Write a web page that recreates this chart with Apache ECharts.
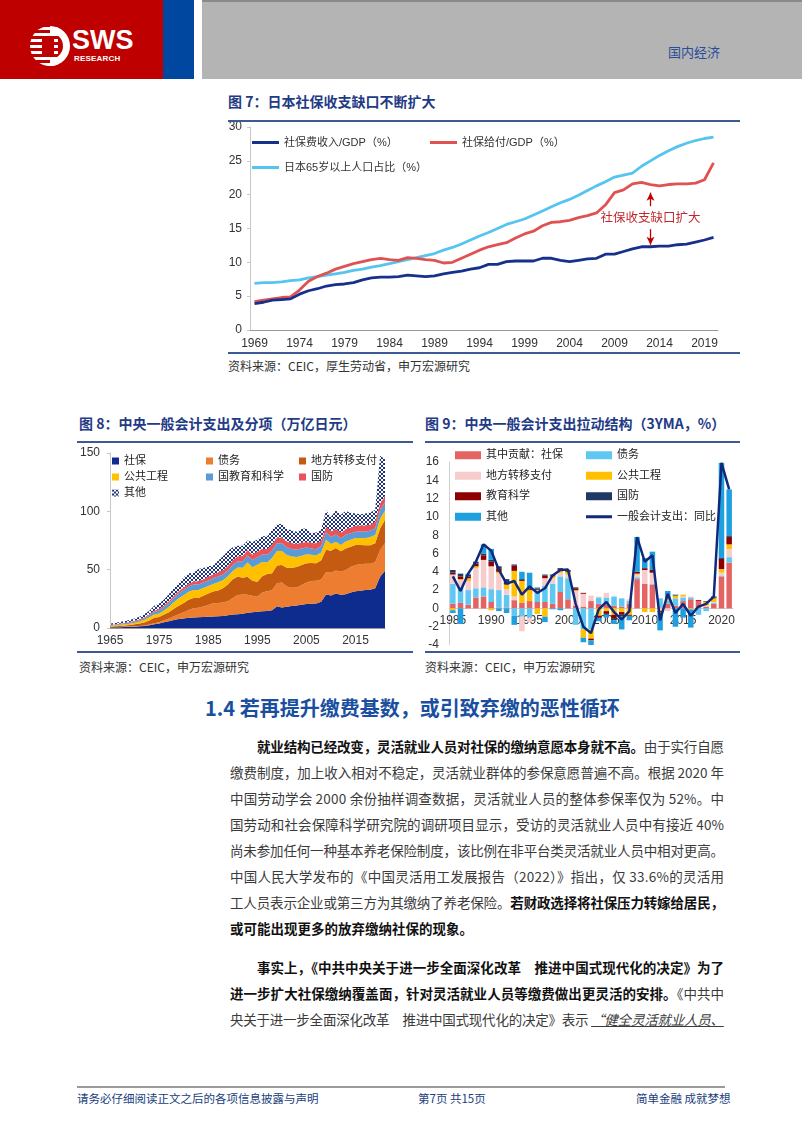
<!DOCTYPE html>
<html><head><meta charset="utf-8">
<script src="https://cdn.jsdelivr.net/npm/echarts@6/dist/echarts.min.js"></script>
<style>
body{margin:0;width:802px;height:1133px;background:#fff;position:relative;overflow:hidden;font-family:"Noto Sans CJK SC","Noto Sans",sans-serif;}
.a{position:absolute;}
.ttl{position:absolute;font-size:14px;font-weight:bold;color:#1f3b86;white-space:nowrap;line-height:18px;}
.src{position:absolute;font-size:12px;color:#333;white-space:nowrap;line-height:16px;}
.rule{position:absolute;height:2px;background:#3e5a96;}
.ln{position:absolute;left:230px;width:494px;height:20px;line-height:20px;font-size:13.5px;text-align:left;white-space:nowrap;color:#3b3b3b;}
.ln.ind{left:257px;width:467px;}
.ln b{color:#111;}
.ft{position:absolute;top:1090px;font-size:11.5px;color:#203d7c;line-height:16px;white-space:nowrap;}
</style></head><body>
<!-- header -->
<div class="a" style="left:0;top:0;width:163px;height:79px;background:#bf0000;"></div>
<div class="a" style="left:163px;top:0;width:31px;height:79px;background:#0047a0;"></div>
<div class="a" style="left:202px;top:0;width:600px;height:79px;background:#b4b4b4;border-top:2px solid #8a8a8a;box-sizing:border-box;"></div>
<svg class="a" style="left:28px;top:24px" width="44" height="44" viewBox="0 0 44 44">
 <defs><clipPath id="cc"><circle cx="22" cy="22" r="20"/></clipPath></defs>
 <g clip-path="url(#cc)" fill="#fff">
  <rect x="0" y="3" width="30" height="3"/><rect x="0" y="9" width="30" height="3"/><rect x="0" y="15" width="30" height="3"/>
  <rect x="0" y="21" width="30" height="3"/><rect x="0" y="27" width="30" height="3"/><rect x="0" y="33" width="30" height="3"/><rect x="0" y="39" width="30" height="3"/>
 </g>
 <path d="M22 2 A20 20 0 0 1 22 42 L22 35 A13 13 0 0 0 22 9 Z" fill="#fff"/>
 <rect x="14" y="12" width="12" height="20" fill="#bf0000"/>
</svg>
<div class="a" style="left:72px;top:26px;font-family:'Liberation Sans',Arial,sans-serif;font-weight:bold;font-size:27px;color:#fff;line-height:28px;">SWS</div>
<div class="a" style="left:74px;top:54px;font-family:'Liberation Sans',Arial,sans-serif;font-weight:bold;font-size:8px;color:#fff;line-height:9px;letter-spacing:0.2px;">RESEARCH</div>
<div class="a" style="left:668px;top:44px;font-size:13px;color:#2b4c9b;line-height:16px;">国内经济</div>

<!-- figure 7 -->
<div class="ttl" style="left:228px;top:92px;">图 7：日本社保收支缺口不断扩大</div>
<div class="rule" style="left:228px;top:120px;width:512px;"></div>
<div id="c7" class="a" style="left:220px;top:122px;width:525px;height:230px;"></div>
<div class="rule" style="left:228px;top:352px;width:512px;"></div>
<div class="src" style="left:228px;top:358px;">资料来源：CEIC，厚生劳动省，申万宏源研究</div>

<!-- figure 8 -->
<div class="ttl" style="left:79px;top:414px;">图 8：中央一般会计支出及分项（万亿日元）</div>
<div class="rule" style="left:77px;top:441px;width:336px;"></div>
<div id="c8" class="a" style="left:75px;top:443px;width:330px;height:207px;"></div>
<div class="rule" style="left:77px;top:651px;width:336px;"></div>
<div class="src" style="left:79px;top:659px;">资料来源：CEIC，申万宏源研究</div>

<!-- figure 9 -->
<div class="ttl" style="left:425px;top:414px;">图 9：中央一般会计支出拉动结构（3YMA，%）</div>
<div class="rule" style="left:425px;top:441px;width:315px;"></div>
<div id="c9" class="a" style="left:415px;top:443px;width:330px;height:207px;"></div>
<div class="rule" style="left:425px;top:651px;width:315px;"></div>
<div class="src" style="left:425px;top:659px;">资料来源：CEIC，申万宏源研究</div>

<!-- text -->
<div class="a" style="left:205px;top:695px;font-size:20px;font-weight:bold;color:#1a4fa0;line-height:26px;white-space:nowrap;">1.4 若再提升缴费基数，或引致弃缴的恶性循环</div>
<div class="ln ind jf" style="top:736px;"><b>就业结构已经改变，灵活就业人员对社保的缴纳意愿本身就不高。</b>由于实行自愿</div>
<div class="ln jf" style="top:762px;">缴费制度，加上收入相对不稳定，灵活就业群体的参保意愿普遍不高。根据 2020 年</div>
<div class="ln jf" style="top:788px;">中国劳动学会 2000 余份抽样调查数据，灵活就业人员的整体参保率仅为 52%。中</div>
<div class="ln jf" style="top:814px;">国劳动和社会保障科学研究院的调研项目显示，受访的灵活就业人员中有接近 40%</div>
<div class="ln jf" style="top:840px;">尚未参加任何一种基本养老保险制度，该比例在非平台类灵活就业人员中相对更高。</div>
<div class="ln jf" style="top:866px;">中国人民大学发布的《中国灵活用工发展报告（2022）》指出，仅 33.6%的灵活用</div>
<div class="ln jf" style="top:892px;">工人员表示企业或第三方为其缴纳了养老保险。<b>若财政选择将社保压力转嫁给居民，</b></div>
<div class="ln" style="top:918px;"><b>或可能出现更多的放弃缴纳社保的现象。</b></div>
<div class="ln ind jf" style="top:957px;"><b>事实上，《中共中央关于进一步全面深化改革　推进中国式现代化的决定》为了</b></div>
<div class="ln jf" style="top:983px;"><b>进一步扩大社保缴纳覆盖面，针对灵活就业人员等缴费做出更灵活的安排。</b>《中共中</div>
<div class="ln jf" style="top:1009px;">央关于进一步全面深化改革　推进中国式现代化的决定》表示 <i><u>“健全灵活就业人员、</u></i></div>

<!-- footer -->
<div class="a" style="left:77px;top:1086px;width:648px;height:2px;background:#9a9a9a;"></div>
<div class="ft" style="left:77px;">请务必仔细阅读正文之后的各项信息披露与声明</div>
<div class="ft" style="left:418px;">第7页 共15页</div>
<div class="ft" style="left:636px;">简单金融 成就梦想</div>

<script>
// justify each text line by spreading its letters over the line width
document.querySelectorAll('.ln.jf').forEach(el => {
  const target = el.clientWidth;
  const span = document.createElement('span');
  while (el.firstChild) span.appendChild(el.firstChild);
  el.appendChild(span);
  const w = span.getBoundingClientRect().width;
  const n = el.textContent.length;
  if (n > 1) el.style.letterSpacing = ((target - w) / (n - 1)) + 'px';
});

// ---------- Figure 7 data (1969-2020) ----------
const years7 = [];
for (let y = 1969; y <= 2020; y++) years7.push(String(y));
const ssIncome = [3.9,4.1,4.4,4.5,4.6,5.3,5.8,6.1,6.5,6.7,
  6.8,7.0,7.4,7.7,7.8,7.8,7.9,8.1,8.0,7.9,
  8.0,8.3,8.5,8.7,9.0,9.2,9.7,9.7,10.1,10.2,
  10.2,10.2,10.6,10.6,10.3,10.1,10.3,10.5,10.6,11.2,
  11.2,11.6,12.0,12.3,12.3,12.4,12.4,12.6,12.7,13.0,
  13.3,13.7];
const ssBenefit = [4.2,4.4,4.6,4.8,4.9,5.9,7.2,7.9,8.4,9.0,
  9.4,9.8,10.1,10.4,10.6,10.4,10.3,10.7,10.6,10.4,
  10.3,9.9,10.0,10.6,11.2,11.8,12.3,12.6,12.9,13.6,
  14.2,14.6,15.4,15.9,16.0,16.2,16.6,16.9,17.3,18.5,
  20.3,20.7,21.6,21.8,21.5,21.3,21.5,21.6,21.6,21.7,
  22.2,24.7];
const aged65 = [6.9,7.0,7.0,7.1,7.3,7.4,7.7,7.9,8.1,8.3,
  8.5,8.8,9.0,9.3,9.5,9.8,10.1,10.4,10.7,11.0,
  11.3,11.8,12.2,12.7,13.3,13.9,14.4,15.0,15.6,16.0,
  16.4,17.0,17.6,18.2,18.8,19.3,19.9,20.6,21.3,21.9,
  22.6,22.9,23.2,24.2,25.0,25.8,26.5,27.1,27.6,28.0,
  28.3,28.5];
const names7 = ['社保费收入/GDP（%）','社保给付/GDP（%）','日本65岁以上人口占比（%）'];
const gapNote = '社保收支缺口扩大';

// ---------- Figure 8 data (1965-2021, trillion yen) ----------
const years8 = [];
for (let y = 1965; y <= 2021; y++) years8.push(String(y));
const names8 = ['社保','债务','地方转移支付','公共工程','国教育和科学','国防','其他'];
const exSocial = [0.5,0.6,0.7,0.8,0.9,1.1,1.4,1.7,2.3,3.2,
  3.9,4.9,5.7,6.8,7.7,8.2,8.8,9.1,9.2,9.4,
  9.6,9.9,10.0,10.3,11.0,11.5,11.8,12.3,13.0,13.4,
  14.0,14.3,14.6,15.2,18.6,17.6,18.3,18.9,19.3,19.9,
  20.6,20.7,21.1,22.5,28.7,27.8,29.5,28.6,29.0,30.5,
  31.5,32.0,32.5,32.8,34.0,44.0,49.0];
const exDebt = [0.0,0.1,0.1,0.2,0.3,0.3,0.3,0.5,0.7,0.9,
  1.1,1.7,2.4,3.2,4.1,5.4,6.6,7.8,8.2,9.1,
  10.2,11.3,11.5,11.6,12.0,14.3,16.4,16.4,15.4,14.3,
  12.8,16.2,16.8,17.2,19.8,21.4,17.2,15.6,15.5,16.9,
  18.4,19.6,19.5,19.0,19.1,19.5,19.8,19.7,20.7,21.8,
  22.4,22.6,22.5,22.2,22.3,22.7,23.8];
const exLocal = [0.7,0.8,1.0,1.2,1.4,1.8,2.1,2.5,3.4,4.6,
  4.4,4.9,5.5,6.4,7.3,7.8,8.9,8.9,8.4,9.2,
  9.7,10.1,10.6,12.1,14.3,15.9,16.0,14.3,15.6,12.8,
  12.9,13.8,14.8,14.5,15.2,15.0,16.2,17.1,17.4,17.1,
  16.6,15.5,14.9,16.6,19.3,18.9,19.2,17.5,18.5,17.3,
  17.2,16.6,16.0,16.0,16.4,18.5,20.0];
const exPublic = [0.7,0.8,0.9,1.0,1.1,1.4,1.8,2.3,2.8,2.9,
  3.1,3.6,4.6,5.6,6.4,6.7,6.7,6.8,6.7,6.5,
  6.5,6.5,7.2,7.0,7.0,7.1,7.6,8.6,12.2,11.5,
  14.5,12.3,10.0,13.0,12.4,11.9,10.8,9.6,8.6,8.0,
  7.6,7.0,6.8,6.6,8.5,5.8,5.5,5.4,6.0,6.1,
  6.0,6.0,6.0,6.9,7.0,8.5,8.0];
const exEdu = [0.5,0.6,0.7,0.8,0.9,1.0,1.1,1.4,1.7,2.1,
  2.5,2.9,3.3,3.8,4.2,4.5,4.6,4.6,4.7,4.7,
  4.8,4.8,4.9,4.9,5.0,5.1,5.3,5.6,6.0,6.3,
  6.5,6.5,6.5,6.6,6.6,6.8,6.7,6.6,6.5,6.2,
  5.8,5.4,5.3,5.5,6.4,6.0,6.2,5.8,5.7,5.6,
  5.5,5.6,5.6,5.6,5.8,7.5,7.0];
const exDefense = [0.3,0.3,0.4,0.4,0.5,0.6,0.7,0.8,0.9,1.1,
  1.3,1.5,1.7,1.9,2.1,2.2,2.4,2.6,2.8,2.9,
  3.1,3.3,3.5,3.7,3.9,4.2,4.4,4.5,4.6,4.6,
  4.7,4.8,4.9,4.9,4.9,4.9,4.9,4.9,4.9,4.9,
  4.8,4.8,4.8,4.7,4.8,4.7,4.7,4.7,4.8,4.9,
  5.0,5.1,5.2,5.3,5.4,5.6,5.6];
const exOther = [1.0,1.3,1.3,1.5,1.8,2.0,2.2,2.7,3.0,4.3,
  4.6,5.0,5.9,6.4,7.0,8.6,8.9,7.4,10.6,9.7,
  9.1,7.7,10.0,11.9,12.7,11.2,9.0,8.8,8.3,10.7,
  10.5,10.9,10.9,13.0,11.5,11.7,10.7,11.0,10.2,11.9,
  11.7,8.4,9.4,9.8,14.2,12.6,15.8,15.4,15.5,12.6,
  10.6,9.6,10.3,10.1,10.5,40.8,31.2];

// ---------- Figure 9 data (1985-2021, 3YMA contribution %) ----------
const years9 = [];
for (let y = 1985; y <= 2021; y++) years9.push(String(y));
const names9 = ['其中贡献：社保','债务','地方转移支付','公共工程','教育科学','国防','其他','一般会计支出：同比'];
const cSocial = [0.5,0.6,0.4,1.2,1.3,0.7,0.1,0.1,0.9,0.6,
  0.8,0.7,0.7,0.5,1.8,1.0,0.3,0.2,0.8,0.5,
  0.4,0.3,0.2,0.5,3.2,2.7,2.6,0.1,0.5,0.3,
  0.8,1.0,0.8,0.2,0.5,3.5,5.0];
const cDebt = [2.2,1.7,1.6,1.0,1.0,1.4,1.9,1.4,-0.8,-0.9,
  -1.0,1.0,1.8,2.2,1.7,2.3,-1.8,-2.3,-2.3,0.7,
  0.8,1.0,0.9,0.3,0.2,0.0,0.1,1.0,0.3,0.8,
  0.4,0.2,-0.7,-0.3,0.1,0.1,0.6];
const cLocal = [1.0,0.8,1.0,2.2,3.0,2.5,1.8,0.6,0.4,-1.6,
  -0.5,0.3,0.8,0.6,0.4,0.4,1.6,1.4,0.6,0.1,
  0.5,0.0,0.0,0.2,0.3,1.5,1.2,-0.2,-0.3,0.0,
  0.1,0.1,0.0,0.1,0.1,0.3,0.9];
const cPublic = [-0.2,0.1,0.3,0.2,0.0,-0.2,0.2,0.5,2.8,2.4,
  1.2,-0.6,-0.9,0.2,0.3,0.3,0.1,-0.9,-1.0,-0.8,
  -0.3,-0.7,-0.4,-0.7,0.1,-0.4,-0.4,-0.1,0.3,0.3,
  0.2,-0.1,0.0,0.4,0.4,0.4,0.5];
const cEdu = [0.2,0.3,0.2,0.3,0.5,0.5,0.4,0.3,0.6,0.1,
  0.1,0.1,0.3,0.1,0.1,0.1,0.2,0.1,-0.2,-0.2,
  -0.3,-0.4,-0.3,-0.1,0.2,0.2,0.3,-0.1,0.0,0.0,
  0.0,0.0,0.1,0.05,0.1,1.1,0.8];
const cDefense = [0.3,0.3,0.2,0.2,0.2,0.2,0.2,0.3,0.1,0.1,
  0.1,0.1,0.1,0.1,0.1,0.1,0.1,0.0,0.0,-0.1,
  -0.1,-0.2,-0.2,-0.1,0.0,0.0,0.0,0.0,0.1,0.1,
  0.0,0.0,0.0,0.05,0.1,0.1,0.1];
const cOther = [-0.3,-1.7,0.1,0.0,1.0,1.2,-0.3,-0.5,-1.0,0.8,
  1.7,0.1,-0.6,-0.1,-0.2,0.0,0.0,-0.5,-0.6,-0.3,
  -0.3,-0.4,-1.4,-0.4,3.8,1.1,2.0,-2.0,0.7,-2.0,
  -1.0,-2.0,0.0,0.0,0.0,10.4,5.1];
const totalYoY = [3.5,1.9,3.8,5.1,7.0,6.3,4.2,2.7,3.0,1.5,
  2.4,1.7,2.2,3.6,4.2,4.25,0.5,-2.0,-2.7,-0.1,
  0.7,-0.4,-1.2,-0.3,7.8,5.1,5.8,-1.3,1.6,-0.5,
  0.5,-0.8,0.2,0.5,1.3,15.9,13.0];

const FONT = '"Liberation Sans", Arial, "Noto Sans CJK SC", sans-serif';
const lbl = {color:'#333', fontSize:12, fontFamily:FONT};

// ---------- Chart 7 ----------
const c7 = echarts.init(document.getElementById('c7'));
const col7 = ['#16308c', '#e05252', '#55c5f0'];
const leg7 = (name, left, top) => ({data:[{name:name, icon:'rect'}], left:left, top:top, itemWidth:27, itemHeight:3, padding:0,
  textStyle:{color:'#333', fontSize:11, fontFamily:FONT}});
c7.setOption({
  animation:false,
  textStyle:{fontFamily:FONT},
  grid:{left:30, top:5, width:468, height:203, outerBoundsMode:'none', containLabel:false},
  legend:[leg7(names7[0], 32, 15), leg7(names7[1], 210, 15), leg7(names7[2], 32, 40)],
  xAxis:{type:'category', data:years7, boundaryGap:true,
    axisLine:{lineStyle:{color:'#9a9a9a'}},
    axisTick:{interval:0, length:3, lineStyle:{color:'#9a9a9a'}},
    axisLabel:Object.assign({interval:4, margin:8}, lbl)},
  yAxis:{type:'value', min:0, max:30, interval:5,
    splitLine:{show:false},
    axisLine:{show:true, lineStyle:{color:'#c8c8c8'}},
    axisTick:{show:true, length:3, lineStyle:{color:'#c8c8c8'}},
    axisLabel:Object.assign({margin:8}, lbl)},
  series:[
    {name:names7[2], type:'line', data:aged65, symbol:'none', color:col7[2], lineStyle:{width:2.8, color:col7[2]}},
    {name:names7[1], type:'line', data:ssBenefit, symbol:'none', color:col7[1], lineStyle:{width:2.8, color:col7[1]}},
    {name:names7[0], type:'line', data:ssIncome, symbol:'none', color:col7[0], lineStyle:{width:2.8, color:col7[0]},
      markLine:{silent:true, symbol:['none','arrow'], symbolSize:[6,8], label:{show:false},
        lineStyle:{color:'#c00000', width:1.3, type:'solid'},
        data:[
          [{coord:['2013',18.3]},{coord:['2013',20.3]}],
          [{coord:['2013',14.9]},{coord:['2013',12.6]}]
        ]},
      markPoint:{silent:true, symbol:'circle', symbolSize:0,
        label:{show:true, position:'inside', formatter:gapNote, color:'#c0282d', fontSize:12.5, fontFamily:'"Noto Sans CJK SC", sans-serif'},
        data:[{coord:['2013',16.7]}]}
    }
  ]
});

// ---------- Chart 8 ----------
function checker(){
  const c = document.createElement('canvas'); c.width = 4; c.height = 4;
  const g = c.getContext('2d');
  g.fillStyle = '#ffffff'; g.fillRect(0,0,4,4);
  g.fillStyle = '#22347a'; g.fillRect(0,0,2,2); g.fillRect(2,2,2,2);
  return c;
}
const pat = {image:checker(), repeat:'repeat'};
const col8 = ['#0e2c8e','#ed7d31','#c55a11','#ffc000','#5b9bd5','#e8545a', pat];
const data8 = [exSocial, exDebt, exLocal, exPublic, exEdu, exDefense, exOther];
const c8 = echarts.init(document.getElementById('c8'));
const leg8 = (items, left) => ({data:items, orient:'vertical', left:left, top:10, icon:'rect', itemWidth:7, itemHeight:7, itemGap:0, padding:0,
  textStyle:{color:'#222', fontSize:11, lineHeight:16, fontFamily:FONT}});
c8.setOption({
  animation:false,
  textStyle:{fontFamily:FONT},
  grid:{left:35, top:10, width:275, height:175, outerBoundsMode:'none', containLabel:false},
  legend:[leg8([names8[0],names8[3],names8[6]], 37), leg8([names8[1],names8[4]], 131), leg8([names8[2],names8[5]], 224)],
  xAxis:{type:'category', data:years8, boundaryGap:false,
    axisLine:{lineStyle:{color:'#9a9a9a'}},
    axisTick:{show:false},
    axisLabel:Object.assign({interval:9, margin:7}, lbl)},
  yAxis:{type:'value', min:0, max:150, interval:50, splitLine:{show:false},
    axisLine:{show:true, lineStyle:{color:'#c8c8c8'}},
    axisTick:{show:true, length:3, lineStyle:{color:'#c8c8c8'}},
    axisLabel:Object.assign({margin:10}, lbl)},
  series: names8.map((n,i) => ({name:n, type:'line', stack:'t', data:data8[i], symbol:'none',
    lineStyle:{width:0}, itemStyle:{color:col8[i]}, areaStyle:{color:col8[i], opacity:1}}))
});

// ---------- Chart 9 ----------
const col9 = ['#e46464','#5ec8f2','#f7cccc','#ffc000','#8e0000','#1f3864','#1ea0e0'];
const data9 = [cSocial, cDebt, cLocal, cPublic, cEdu, cDefense, cOther];
const yMin9 = -4, yMax9 = 16, gridH9 = 183;
const c9 = echarts.init(document.getElementById('c9'));
const leg9 = (items, left) => ({data:items, orient:'vertical', left:left, top:2, itemWidth:26, itemHeight:8, itemGap:0, padding:0,
  textStyle:{color:'#222', fontSize:11, lineHeight:20.5, fontFamily:FONT}});
c9.setOption({
  animation:false,
  textStyle:{fontFamily:FONT},
  grid:{left:34, top:19, width:284, height:gridH9, outerBoundsMode:'none', containLabel:false},
  legend:[
    leg9([{name:names9[0],icon:'rect'},{name:names9[2],icon:'rect'},{name:names9[4],icon:'rect'},{name:names9[6],icon:'rect'}], 40),
    leg9([{name:names9[1],icon:'rect'},{name:names9[3],icon:'rect'},{name:names9[5],icon:'rect'},
          {name:names9[7],icon:'path://M0,0 L26,0 L26,3 L0,3 Z', itemStyle:{color:'#0f2a7a'}}], 171)
  ],
  xAxis:{type:'category', data:years9, boundaryGap:true, position:'bottom',
    offset: -(0 - yMin9) / (yMax9 - yMin9) * gridH9,
    axisLine:{onZero:false, lineStyle:{color:'#d0d0d0'}},
    axisTick:{show:false},
    axisLabel:Object.assign({interval:4, margin:6}, lbl)},
  yAxis:{type:'value', min:yMin9, max:yMax9, interval:2, splitLine:{show:false},
    axisLine:{show:true, onZero:false, lineStyle:{color:'#d0d0d0'}},
    axisTick:{show:false},
    axisLabel:Object.assign({margin:10}, lbl)},
  series: names9.slice(0,7).map((n,i) => ({name:n, type:'bar', stack:'s', data:data9[i], barWidth:5.5,
      itemStyle:{color:col9[i]}}))
    .concat([{name:names9[7], type:'line', data:totalYoY, symbol:'none', z:10, color:'#0f2a7a', lineStyle:{width:2.5, color:'#0f2a7a'}}])
});
</script>
</body></html>
